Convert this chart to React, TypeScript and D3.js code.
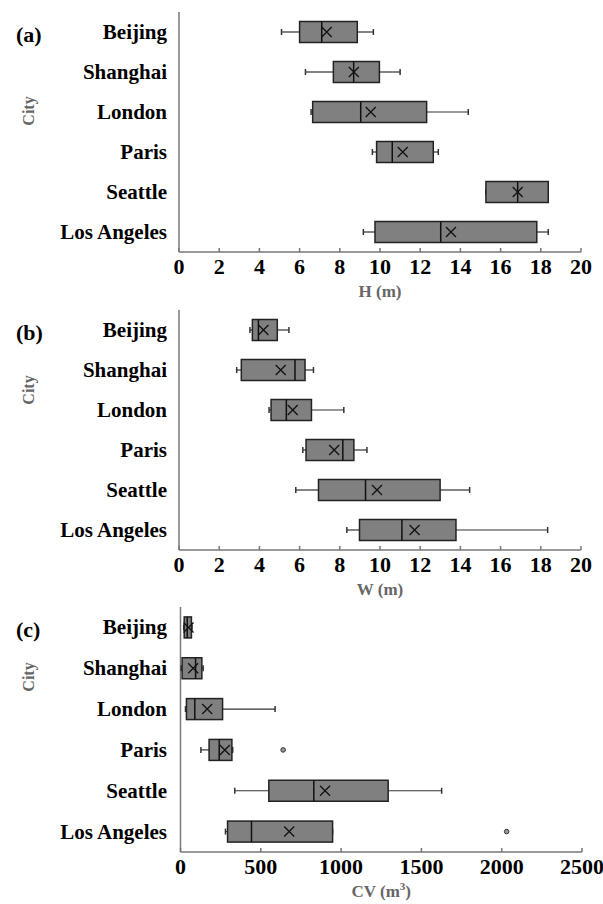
import React from 'react';
import * as d3 from 'd3';

// city order, top to bottom
const cities = ['Beijing', 'Shanghai', 'London', 'Paris', 'Seattle', 'Los Angeles'];

// [min, q1, median, q3, max, mean]
const hStats = [
  [5.1, 6.0, 7.1, 8.87, 9.67, 7.35],
  [6.29, 7.68, 8.69, 9.97, 11.0, 8.7],
  [6.57, 6.65, 9.04, 12.32, 14.39, 9.54],
  [9.62, 9.83, 10.61, 12.65, 12.9, 11.13],
  [15.27, 15.27, 16.85, 18.37, 18.37, 16.85],
  [9.17, 9.75, 13.02, 17.8, 18.37, 13.53],
];
const wStats = [
  [3.53, 3.65, 3.95, 4.89, 5.47, 4.2],
  [2.87, 3.1, 5.77, 6.27, 6.69, 5.06],
  [4.48, 4.58, 5.34, 6.59, 8.2, 5.66],
  [6.16, 6.32, 8.15, 8.7, 9.35, 7.72],
  [5.81, 6.94, 9.28, 12.99, 14.46, 9.85],
  [8.35, 8.98, 11.09, 13.78, 18.34, 11.72],
];
const cvStats = [
  [20, 23, 42, 68, 72, 50],
  [5, 10, 94, 133, 141, 79],
  [31, 37, 89, 262, 589, 166],
  [127, 178, 241, 320, 325, 276],
  [338, 550, 830, 1293, 1626, 900],
  [280, 293, 442, 947, 947, 677],
];
// outliers: [city index, value]
const hOutliers: number[][] = [];
const wOutliers: number[][] = [];
const cvOutliers = [[3, 639], [5, 2031]];

const hTicks = d3.range(0, 21, 2);
const wTicks = d3.range(0, 21, 2);
const cvTicks = [0, 500, 1000, 1500, 2000, 2500];

const FONT = '"Liberation Serif", "Times New Roman", serif';

function Panel({ tag, stats, outliers, ticks, domain, title, x0, x1, top, bottom, cityY }) {
  const x = d3.scaleLinear().domain(domain).range([x0, x1]);
  const y = d3.scaleBand().domain(cities).range([top, bottom]);
  const boxH = 21;
  return (
    <g>
      <text x={16} y={top + 30} fontFamily={FONT} fontWeight="bold" fontSize={22} fill="#000">{tag}</text>
      <text transform={`translate(34,${cityY}) rotate(-90)`} textAnchor="middle" fontFamily={FONT}
        fontWeight="bold" fontSize={16} fill="#666">City</text>
      {cities.map(c => (
        <text key={c} x={167} y={y(c)! + y.bandwidth() / 2 + 7} textAnchor="end" fontFamily={FONT}
          fontWeight="bold" fontSize={21} fill="#000">{c}</text>
      ))}
      <line x1={x0} x2={x0} y1={top} y2={bottom} stroke="#777" strokeWidth={1.5} />
      <line x1={x0} x2={x1} y1={bottom} y2={bottom} stroke="#777" strokeWidth={1.5} />
      {ticks.map(t => (
        <g key={t}>
          <line x1={x(t)} x2={x(t)} y1={bottom} y2={bottom - 4} stroke="#777" strokeWidth={1.5} />
          <text x={x(t)} y={bottom + 22} textAnchor="middle" fontFamily={FONT} fontWeight="bold"
            fontSize={22} fill="#000">{t}</text>
        </g>
      ))}
      {stats.map((s, i) => {
        const [mn, q1, md, q3, mx, mean] = s;
        const cy = y(cities[i])! + y.bandwidth() / 2;
        const mX = x(mean);
        return (
          <g key={i}>
            <line x1={x(mn)} x2={x(q1)} y1={cy} y2={cy} stroke="#333" strokeWidth={1.2} />
            <line x1={x(q3)} x2={x(mx)} y1={cy} y2={cy} stroke="#333" strokeWidth={1.2} />
            <line x1={x(mn)} x2={x(mn)} y1={cy - 3} y2={cy + 3} stroke="#333" strokeWidth={1.5} />
            <line x1={x(mx)} x2={x(mx)} y1={cy - 3} y2={cy + 3} stroke="#333" strokeWidth={1.5} />
            <rect x={x(q1)} y={cy - boxH / 2} width={x(q3) - x(q1)} height={boxH}
              fill="#808080" stroke="#222" strokeWidth={1.5} />
            <line x1={x(md)} x2={x(md)} y1={cy - boxH / 2} y2={cy + boxH / 2} stroke="#111" strokeWidth={1.5} />
            <path d={`M${mX - 5},${cy - 5}L${mX + 5},${cy + 5}M${mX - 5},${cy + 5}L${mX + 5},${cy - 5}`}
              stroke="#111" strokeWidth={1.3} fill="none" />
          </g>
        );
      })}
      {outliers.map(([ci, v], k) => (
        <circle key={k} cx={x(v)} cy={y(cities[ci])! + y.bandwidth() / 2} r={2.3}
          fill="#999" stroke="#333" strokeWidth={1} />
      ))}
      <text x={(x0 + x1) / 2} y={bottom + 45} textAnchor="middle" fontFamily={FONT} fontWeight="bold"
        fontSize={17} fill="#666">{title}</text>
    </g>
  );
}

export default function App() {
  return (
    <svg width={603} height={904} style={{ position: 'absolute', left: 0, top: 0, background: '#fff' }}>
      <Panel tag="(a)" stats={hStats} outliers={hOutliers} ticks={hTicks} domain={[0, 20]}
        title="H (m)" x0={179} x1={581} top={12} bottom={252} cityY={111} />
      <Panel tag="(b)" stats={wStats} outliers={wOutliers} ticks={wTicks} domain={[0, 20]}
        title="W (m)" x0={179} x1={581} top={310} bottom={550} cityY={390} />
      <Panel tag="(c)" stats={cvStats} outliers={cvOutliers} ticks={cvTicks} domain={[0, 2500]}
        title={<>CV (m<tspan fontSize={11} dy={-7}>3</tspan><tspan dy={7}>)</tspan></>}
        x0={180.5} x1={582} top={607} bottom={852} cityY={677} />
    </svg>
  );
}
